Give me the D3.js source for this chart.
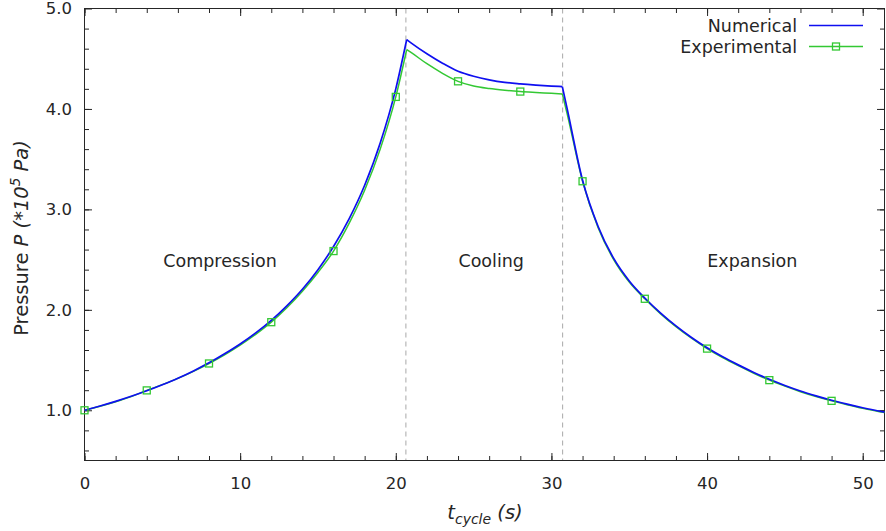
<!DOCTYPE html>
<html><head><meta charset="utf-8">
<script src="https://cdn.jsdelivr.net/npm/d3@7"></script>
<style>body{margin:0;background:#fff;} svg{display:block;font-family:"DejaVu Sans",sans-serif;}</style>
</head><body><svg id="c" width="886" height="531"></svg>
<script>
// ---- data ----
const timeS = [0,1,2,3,4,5,6,7,8,9,10,11,12,13,14,15,16,17,18,19,20,20.7,
  21,22,23,24,25,26,27,28,29,30,30.7,
  31,32,33,34,35,36,37,38,39,40,41,42,43,44,45,46,47,48,49,50,51,51.4];
const numericalP = [1.000,1.043,1.089,1.139,1.194,1.254,1.319,1.392,1.472,1.562,1.660,1.770,1.895,2.040,2.205,2.400,2.630,2.905,3.240,3.660,4.200,4.690,
  4.655,4.549,4.455,4.375,4.325,4.290,4.265,4.250,4.238,4.228,4.222,
  4.010,3.290,2.830,2.512,2.288,2.118,1.970,1.840,1.725,1.622,1.532,1.452,1.377,1.308,1.247,1.192,1.144,1.100,1.061,1.025,0.993,0.982];
const experimentalP = [1.000,1.040,1.085,1.136,1.198,1.255,1.318,1.388,1.466,1.552,1.648,1.756,1.877,2.020,2.185,2.372,2.585,2.860,3.190,3.600,4.120,4.590,
  4.560,4.450,4.355,4.275,4.228,4.203,4.186,4.173,4.164,4.156,4.150,
  3.960,3.280,2.818,2.500,2.276,2.110,1.962,1.832,1.717,1.614,1.524,1.444,1.369,1.300,1.240,1.185,1.137,1.094,1.055,1.019,0.988,0.978];
const phaseBounds = [0, 20.7, 30.7, 51.4];
const phaseDividers = [20.65, 30.72];
const phaseNames = ["Compression", "Cooling", "Expansion"];
const seriesNames = ["Numerical", "Experimental"];
const xTickValues = [0, 10, 20, 30, 40, 50];
const yTickValues = [1, 2, 3, 4, 5];
const markerEvery = 4;

// ---- layout ----
const svg = d3.select("#c");
const x = d3.scaleLinear().domain([0, 51.4]).range([84.5, 884.5]);
const y = d3.scaleLinear().domain([0.5, 5.0]).range([460.5, 8.5]);
const colBlue = "#0f0ff0", colGreen = "#33c833", ink = "#262626";
const phaseLabelPos = [{t: 8.71, p: 2.43}, {t: 26.13, p: 2.43}, {t: 42.91, p: 2.43}];

// axes
function styleAxis(g){ g.select(".domain").remove(); g.selectAll("line").attr("stroke", ink); g.selectAll("text").attr("fill", ink).style("font-family","DejaVu Sans").style("font-size","16.5px"); }
const yB = y.range()[0], yT = y.range()[1], xL = x.range()[0], xR = x.range()[1];
const minorX = d3.range(0, 52, 2), minorY = d3.range(0.6, 5.0, 0.2).map(v => +v.toFixed(1));

svg.append("g").attr("transform", `translate(0,${yB})`).call(d3.axisBottom(x).tickValues(minorX).tickSize(-4.5).tickFormat("")).call(styleAxis);
svg.append("g").attr("transform", `translate(0,${yT})`).call(d3.axisTop(x).tickValues(minorX).tickSize(-4.5).tickFormat("")).call(styleAxis);
svg.append("g").attr("transform", `translate(${xL},0)`).call(d3.axisLeft(y).tickValues(minorY).tickSize(-4.5).tickFormat("")).call(styleAxis);
svg.append("g").attr("transform", `translate(${xR},0)`).call(d3.axisRight(y).tickValues(minorY).tickSize(-4.5).tickFormat("")).call(styleAxis);

svg.append("g").attr("transform", `translate(0,${yB})`).call(d3.axisBottom(x).tickValues(xTickValues).tickSize(-7.5).tickPadding(17).tickFormat(d3.format("d"))).call(styleAxis);
svg.append("g").attr("transform", `translate(0,${yT})`).call(d3.axisTop(x).tickValues(xTickValues).tickSize(-7.5).tickFormat("")).call(styleAxis);
svg.append("g").attr("transform", `translate(${xL},0)`).call(d3.axisLeft(y).tickValues(yTickValues).tickSize(-7.5).tickPadding(12.5).tickFormat(d3.format(".1f"))).call(styleAxis);
svg.append("g").attr("transform", `translate(${xR},0)`).call(d3.axisRight(y).tickValues(yTickValues).tickSize(-7.5).tickFormat("")).call(styleAxis);

// phase dividers
svg.append("g").selectAll("line").data(phaseDividers).join("line")
  .attr("x1", d => x(d)).attr("x2", d => x(d)).attr("y1", yT).attr("y2", yB)
  .attr("stroke", "#a8a8a8").attr("stroke-width", 1).attr("stroke-dasharray", "5,4");

// border
svg.append("rect").attr("x", xL).attr("y", yT).attr("width", xR - xL).attr("height", yB - yT)
  .attr("fill", "none").attr("stroke", ink).attr("stroke-width", 1);

// phase labels
svg.append("g").selectAll("text").data(phaseNames).join("text")
  .attr("x", (d,i) => x(phaseLabelPos[i].t)).attr("y", (d,i) => y(phaseLabelPos[i].p))
  .attr("text-anchor", "middle").attr("fill", ink).style("font-size", "17.5px").text(d => d);

// series
const numData = timeS.map((t,i) => ({t, p: numericalP[i]}));
const expData = timeS.map((t,i) => ({t, p: experimentalP[i]}));
const line = d3.line().x(d => x(d.t)).y(d => y(d.p)).curve(d3.curveMonotoneX);
function segments(data){
  const out = [];
  for (let i = 0; i < phaseBounds.length - 1; i++)
    out.push(data.filter(d => d.t >= phaseBounds[i] && d.t <= phaseBounds[i+1]));
  return out;
}
svg.append("g").selectAll("path").data(segments(expData)).join("path")
  .attr("d", line).attr("fill", "none").attr("stroke", colGreen).attr("stroke-width", 1.5);
svg.append("g").selectAll("path").data(segments(numData)).join("path")
  .attr("d", line).attr("fill", "none").attr("stroke", colBlue).attr("stroke-width", 1.7);
svg.append("g").selectAll("rect").data(expData.filter(d => d.t % markerEvery === 0)).join("rect")
  .attr("x", d => x(d.t) - 3.5).attr("y", d => y(d.p) - 3.5).attr("width", 7).attr("height", 7)
  .attr("fill", "none").attr("stroke", colGreen).attr("stroke-width", 1.3);

// legend
const leg = svg.append("g");
const legY = [32, 53], legLineY = [25.5, 46.5];
seriesNames.forEach((name, i) => {
  leg.append("text").attr("x", 797).attr("y", legY[i]).attr("text-anchor", "end")
    .attr("fill", ink).style("font-size", "17.5px").text(name);
  leg.append("line").attr("x1", 809).attr("x2", 863).attr("y1", legLineY[i]).attr("y2", legLineY[i])
    .attr("stroke", i === 0 ? colBlue : colGreen).attr("stroke-width", i === 0 ? 1.7 : 1.5);
  if (i === 1) leg.append("rect").attr("x", 836 - 3.5).attr("y", legLineY[i] - 3.5).attr("width", 7).attr("height", 7)
    .attr("fill", "none").attr("stroke", colGreen).attr("stroke-width", 1.3);
});

// axis titles
const yl = svg.append("text").attr("transform", "translate(28,238) rotate(-90)")
  .attr("text-anchor", "middle").attr("fill", ink).style("font-size", "19.5px");
yl.append("tspan").text("Pressure ");
yl.append("tspan").style("font-style", "italic").text("P (*10");
yl.append("tspan").style("font-style", "italic").style("font-size", "13.5px").attr("dy", -8).text("5");
yl.append("tspan").style("font-style", "italic").attr("dy", 8).text(" Pa)");

const xl = svg.append("text").attr("x", 485).attr("y", 519)
  .attr("text-anchor", "middle").attr("fill", ink).style("font-size", "19.5px").style("font-style", "italic");
xl.append("tspan").text("t");
xl.append("tspan").style("font-size", "14px").attr("dy", 5).text("cycle");
xl.append("tspan").attr("dy", -5).text(" (s)");
</script></body></html>
